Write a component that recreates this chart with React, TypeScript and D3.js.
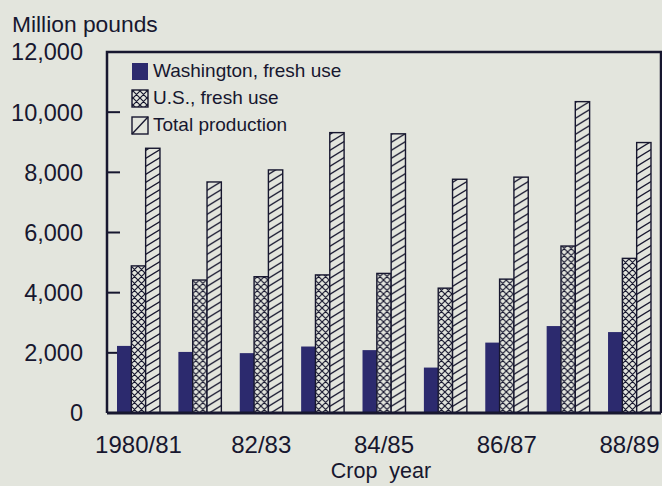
import React from 'react'
import * as d3 from 'd3'

const years = ['1980/81', '81/82', '82/83', '83/84', '84/85', '85/86', '86/87', '87/88', '88/89']
const shownYears = ['1980/81', '82/83', '84/85', '86/87', '88/89']
const washingtonFresh = [2230, 2030, 1990, 2210, 2090, 1510, 2340, 2890, 2690]
const usFresh = [4890, 4420, 4530, 4590, 4640, 4150, 4450, 5550, 5140]
const totalProduction = [8800, 7680, 8080, 9320, 9280, 7770, 7840, 10350, 8990]
const yTicks = [0, 2000, 4000, 6000, 8000, 10000, 12000]
const seriesKeys = ['wa', 'us', 'total']
const legendLabels = ['Washington, fresh use', 'U.S., fresh use', 'Total production']

const W = 662
const H = 486
const BG = '#e3e5dd'
const INK = '#17172f'
const NAVY = '#2c2a6e'
const FONT = '"Liberation Sans", Arial, sans-serif'

export default function App() {
  const left = 107
  const right = 661
  const top = 52
  const bottom = 413

  const x0 = d3.scaleBand<string>().domain(years).range([left, right]).paddingInner(0.3).paddingOuter(0.163)
  const x1 = d3.scaleBand<string>().domain(seriesKeys).range([0, x0.bandwidth()]).padding(0)
  const y = d3.scaleLinear().domain([0, 12000]).range([bottom, top])
  const fmt = d3.format(',')

  const rows = years.map((yr, i) => ({
    yr,
    values: [
      { key: 'wa', v: washingtonFresh[i] },
      { key: 'us', v: usFresh[i] },
      { key: 'total', v: totalProduction[i] },
    ],
  }))

  const fillFor = (k: string) => (k === 'wa' ? NAVY : k === 'us' ? 'url(#cross)' : 'url(#hatch)')

  return (
    <svg
      width={W}
      height={H}
      style={{ position: 'absolute', left: 0, top: 0, background: BG }}
      fontFamily={FONT}
    >
      <defs>
        <pattern id="cross" patternUnits="userSpaceOnUse" width={7} height={7}>
          <rect width={7} height={7} fill={BG} />
          <path d="M0,0 L7,7 M0,7 L7,0 M-1,1 L1,-1 M6,8 L8,6" stroke={INK} strokeWidth={1.2} />
        </pattern>
        <pattern id="hatch" patternUnits="userSpaceOnUse" width={13} height={8}>
          <rect width={13} height={8} fill={BG} />
          <path d="M0,8 L13,0 M-13,8 L13,-8 M0,16 L26,0" stroke={INK} strokeWidth={1.35} />
        </pattern>
      </defs>

      {/* axis title */}
      <text x={12} y={32} fontSize={22.8} fill={INK}>Million pounds</text>

      {/* y tick labels */}
      {yTicks.map((t) => (
        <text key={t} x={83} y={y(t)} dy="0.36em" textAnchor="end" fontSize={23.5} fill={INK}>
          {fmt(t)}
        </text>
      ))}
      {/* inner tick marks */}
      {yTicks.filter((t) => t > 0 && t < 12000).map((t) => (
        <line key={t} x1={left} x2={left + 13} y1={y(t)} y2={y(t)} stroke={INK} strokeWidth={2} />
      ))}

      {/* bars */}
      {rows.map((r) => (
        <g key={r.yr} transform={`translate(${x0(r.yr)},0)`}>
          {r.values.map((d) => (
            <rect
              key={d.key}
              x={x1(d.key)}
              y={y(d.v)}
              width={x1.bandwidth()}
              height={bottom - y(d.v)}
              fill={fillFor(d.key)}
              stroke={d.key === 'wa' ? 'none' : INK}
              strokeWidth={1.4}
            />
          ))}
        </g>
      ))}

      {/* frame */}
      <path
        d={`M${left},${bottom} L${left},${top} L${right},${top} L${right},${bottom}`}
        fill="none"
        stroke={INK}
        strokeWidth={2.5}
      />
      <line x1={left} x2={right} y1={bottom} y2={bottom} stroke={INK} strokeWidth={3} />

      {/* x labels */}
      {shownYears.map((yr) => (
        <text
          key={yr}
          x={(x0(yr) as number) + x0.bandwidth() / 2}
          y={453}
          textAnchor="middle"
          fontSize={24}
          fill={INK}
        >
          {yr}
        </text>
      ))}
      <text x={381} y={478} textAnchor="middle" fontSize={21.5} fill={INK} style={{ whiteSpace: 'pre' }}>
        {'Crop  year'}
      </text>

      {/* legend */}
      {legendLabels.map((lab, i) => {
        const ly = 63 + i * 27
        const k = seriesKeys[i]
        return (
          <g key={lab}>
            {k === 'wa' && <rect x={132} y={ly} width={16} height={17} fill={NAVY} />}
            {k === 'us' && (
              <rect x={132} y={ly} width={16} height={17} fill="url(#cross)" stroke={INK} strokeWidth={1.4} />
            )}
            {k === 'total' && (
              <g>
                <rect x={132} y={ly} width={16} height={17} fill={BG} stroke={INK} strokeWidth={1.4} />
                <line x1={132} y1={ly + 17} x2={148} y2={ly} stroke={INK} strokeWidth={1.4} />
              </g>
            )}
            <text x={153} y={ly + 14} fontSize={19} fill={INK}>
              {lab}
            </text>
          </g>
        )
      })}
    </svg>
  )
}
